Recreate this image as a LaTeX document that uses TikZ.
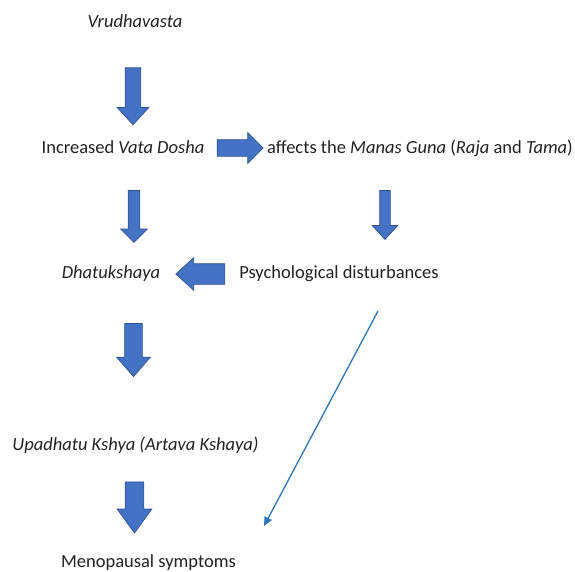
\documentclass[tikz,border=0pt]{standalone}
\usepackage{fontspec}
\setmainfont{Carlito}
\usepackage{xcolor}
\usetikzlibrary{shapes.arrows, arrows.meta, positioning}

\definecolor{blockfill}{HTML}{4472C4}
\definecolor{blockedge}{HTML}{2F528F}
\definecolor{thinblue}{RGB}{46,117,182}
\definecolor{txt}{HTML}{222222}

\begin{document}
\begin{tikzpicture}[x=1pt, y=-1pt]
\tikzstyle{label} = [anchor=base, inner sep=0pt, text=txt, font=\fontsize{18.5}{22}\selectfont]
\tikzstyle{block} = [single arrow, draw=blockedge, fill=blockfill, line width=0.7pt, inner xsep=0pt, single arrow tip angle=85]
\tikzstyle{line} = [draw=thinblue, line width=1.3pt, -{Triangle[length=9pt,width=8pt]}]
\useasboundingbox (0,0) rectangle (575,571);
% texts
\node [label] (vru) at (135,27) {\textit{Vrudhavasta}};
\node [label] (vata) at (123,153) {Increased \textit{Vata Dosha}};
\node [label] (manas) at (420,153) {affects the \textit{Manas Guna} (\textit{Raja} and \textit{Tama})};
\node [label] (psy) at (339,278) {Psychological disturbances};
\node [label] (dha) at (111,278) {\textit{Dhatukshaya}};
\node [label] (upa) at (135.5,450) {\textit{Upadhatu Kshya (Artava Kshaya)}};
\node [label] (meno) at (148.5,567) {Menopausal symptoms};
% block arrows
\node [block, rotate=-90, minimum height=57, inner ysep=7.5, single arrow head extend=8] (ar1) at (133,92) {};
\node [block, minimum height=46, inner ysep=8, single arrow head extend=7, single arrow tip angle=90] (ar2) at (236,148) {};
\node [block, rotate=-90, minimum height=52, inner ysep=5.5, single arrow head extend=7.5, single arrow tip angle=90] (ar3) at (134,213.5) {};
\node [block, rotate=-90, minimum height=49, inner ysep=5, single arrow head extend=7.5] (ar4) at (385,212) {};
\node [block, rotate=180, minimum height=49, inner ysep=10, single arrow head extend=6] (ar5) at (206,274) {};
\node [block, rotate=-90, minimum height=53, inner ysep=8.5, single arrow head extend=8, single arrow tip angle=82] (ar6) at (133.5,345) {};
\node [block, rotate=-90, minimum height=51, inner ysep=9, single arrow head extend=8, single arrow tip angle=72] (ar7) at (134.5,501) {};
% thin arrow
\coordinate (psyend) at (378,311);
\coordinate (menoend) at (264,526);
\path [line] (psyend) -- (menoend);
\end{tikzpicture}
\end{document}
